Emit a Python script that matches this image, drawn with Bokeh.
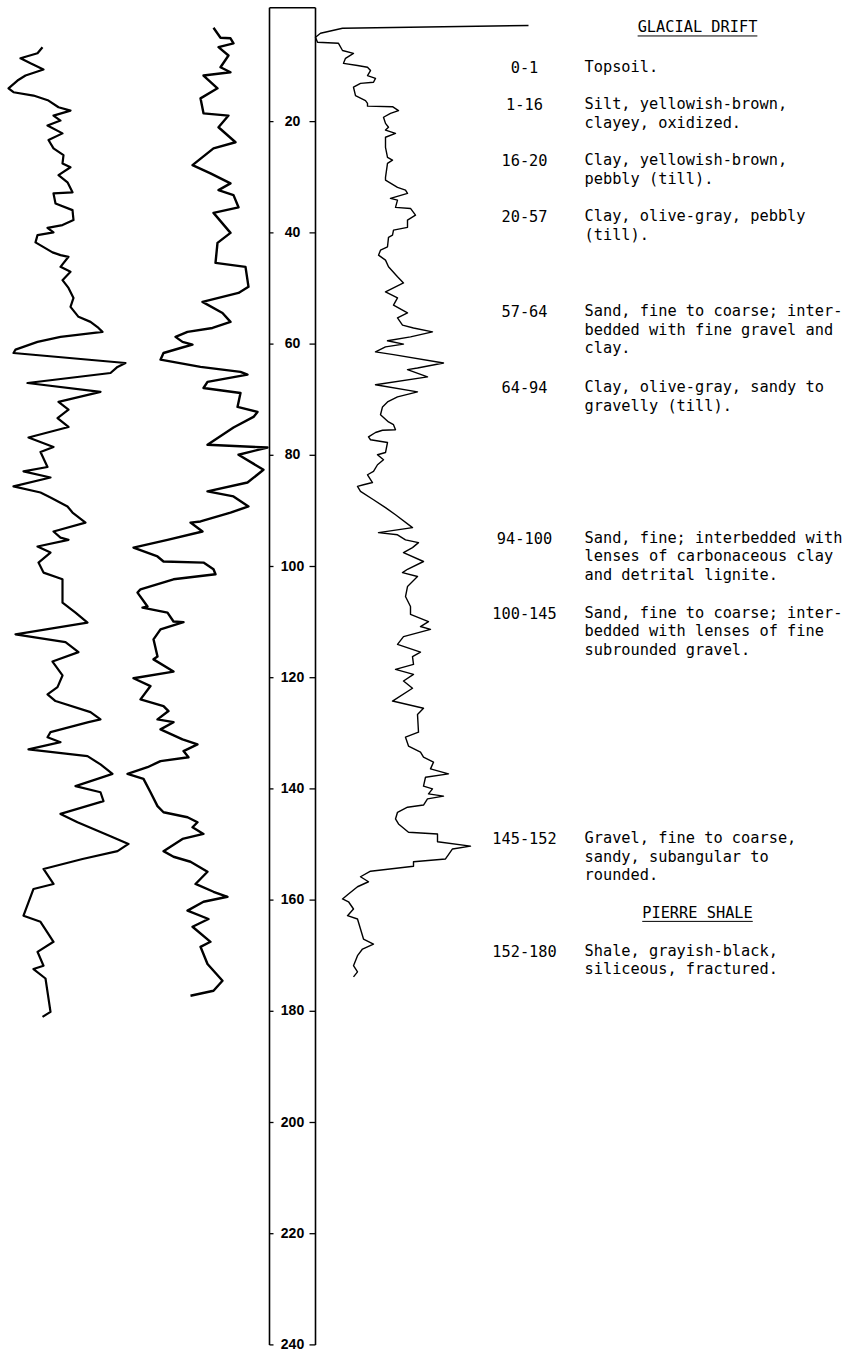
from bokeh.plotting import figure
from bokeh.models import Range1d
from bokeh.core.properties import value
from bokeh.embed import file_html
from bokeh.resources import INLINE

# ---------------- data (depth in feet, log deflection in chart units) ----------------
CURVE_A_DEPTH = [6.6, 7.7, 8.6, 9.5, 10.6, 11.7, 12.6, 14.0, 14.7, 15.3,
                 16.2, 17.4, 18.0, 18.9, 19.8, 20.7, 22.1, 23.3, 24.8, 26.0,
                 27.5, 28.2, 29.6, 30.9, 32.7, 32.9, 34.7, 35.9, 37.7, 38.6,
                 39.1, 39.9, 40.4, 41.7, 43.5, 44.0, 44.3, 46.1, 47.0, 48.5,
                 49.9, 51.7, 53.3, 55.1, 56.0, 57.1, 57.8, 58.7, 59.6, 61.0,
                 61.6, 63.4, 64.1, 65.2, 67.0, 68.6, 70.4, 71.8, 73.3, 74.9,
                 76.8, 78.5, 79.4, 82.1, 82.9, 84.0, 85.6, 86.7, 87.6, 89.2,
                 90.3, 92.1, 93.7, 94.8, 95.2, 96.4, 97.5, 99.3, 101.1, 102.3,
                 106.5, 108.3, 110.1, 112.2, 113.6, 115.4, 117.1, 119.6, 121.7, 123.0,
                 124.2, 126.2, 127.5, 128.0, 129.8, 130.7, 131.6, 132.9, 134.1, 135.6,
                 137.3, 138.2, 139.5, 140.6, 142.2, 144.5, 146.0, 148.5, 149.9, 151.2,
                 152.6, 154.4, 157.1, 158.0, 162.8, 163.9, 167.5, 169.3, 171.8, 172.4,
                 174.1, 180.1, 181.0]
CURVE_A_VALUE = [42, 37, 20, 30, 43, 25, 17, 8, 13, 33,
                 48, 58, 70, 53, 60, 47, 62, 48, 53, 63,
                 62, 70, 58, 67, 72, 53, 55, 72, 73, 62,
                 47, 53, 37, 35, 52, 60, 68, 60, 70, 62,
                 68, 73, 70, 78, 90, 98, 102, 60, 37, 15,
                 13, 125, 117, 110, 27, 100, 58, 68, 57, 68,
                 28, 53, 40, 47, 23, 50, 13, 40, 50, 67,
                 72, 85, 53, 60, 68, 37, 50, 38, 43, 62,
                 62, 75, 87, 15, 65, 78, 52, 62, 57, 47,
                 55, 90, 100, 88, 50, 47, 60, 28, 87, 100,
                 112, 97, 75, 100, 103, 60, 77, 110, 128, 117,
                 82, 43, 53, 33, 23, 40, 53, 37, 43, 33,
                 45, 50, 42]

CURVE_B_DEPTH = [3.1, 4.9, 5.0, 5.9, 6.6, 8.1, 10.2, 11.1, 11.7, 14.0,
                 15.8, 18.5, 18.9, 21.0, 23.7, 24.8, 27.8, 29.3, 31.1, 32.3,
                 33.2, 35.4, 36.4, 40.0, 41.8, 45.4, 46.1, 49.7, 50.8, 52.4,
                 54.4, 56.0, 57.1, 57.8, 58.7, 59.6, 60.1, 60.7, 61.6, 62.8,
                 64.1, 65.0, 65.5, 66.8, 67.9, 68.8, 71.3, 72.2, 73.1, 75.0,
                 78.1, 78.6, 79.9, 82.6, 84.9, 86.5, 87.4, 89.2, 90.3, 91.9,
                 92.1, 93.7, 95.2, 96.6, 98.2, 99.1, 99.3, 100.5, 101.4, 102.3,
                 104.1, 104.7, 107.2, 107.4, 108.3, 109.9, 110.0, 111.3, 113.1, 116.2,
                 116.7, 118.9, 120.1, 121.5, 123.9, 125.1, 126.0, 127.5, 128.0, 129.3,
                 131.1, 132.0, 133.2, 134.3, 135.0, 136.1, 137.3, 138.2, 140.6, 143.1,
                 144.2, 145.1, 146.0, 146.9, 148.1, 149.0, 151.2, 152.2, 153.1, 154.9,
                 157.1, 158.5, 159.4, 160.3, 161.9, 163.4, 164.8, 167.5, 168.4, 171.5,
                 174.5, 176.3, 177.2]
CURVE_B_VALUE = [213, 220, 230, 233, 218, 228, 220, 230, 203, 217,
                 200, 203, 228, 218, 235, 213, 192, 210, 230, 218,
                 233, 238, 213, 230, 217, 215, 245, 248, 238, 202,
                 222, 230, 212, 187, 175, 182, 192, 180, 163, 160,
                 200, 240, 247, 207, 203, 240, 237, 257, 253, 233,
                 207, 267, 238, 263, 247, 207, 233, 248, 230, 200,
                 190, 202, 167, 133, 157, 163, 203, 213, 215, 173,
                 140, 137, 147, 142, 167, 173, 183, 160, 153, 157,
                 153, 173, 133, 150, 140, 163, 168, 157, 173, 160,
                 182, 197, 183, 188, 160, 147, 127, 143, 150, 157,
                 163, 187, 197, 192, 203, 182, 163, 173, 190, 207,
                 195, 213, 227, 203, 187, 208, 192, 210, 200, 207,
                 222, 213, 190]

CURVE_C_DEPTH = [2.7, 3.2, 4.1, 4.8, 5.7, 5.9, 7.2, 7.7, 8.6, 9.5,
                 9.9, 10.2, 10.8, 11.7, 12.2, 12.9, 13.1, 13.8, 15.3, 16.2,
                 16.7, 17.2, 17.3, 18.0, 18.5, 19.2, 20.3, 21.0, 21.5, 22.1,
                 22.8, 24.6, 26.4, 26.9, 27.5, 30.0, 30.5, 31.8, 32.3, 32.9,
                 33.8, 34.1, 35.4, 35.6, 36.8, 37.7, 39.0, 39.5, 40.4, 40.8,
                 42.5, 43.1, 44.0, 44.9, 46.1, 47.9, 49.0, 50.6, 51.5, 51.7,
                 53.0, 54.4, 55.3, 56.6, 57.1, 57.8, 58.7, 59.4, 60.0, 60.5,
                 61.4, 61.9, 63.4, 64.3, 64.6, 65.9, 67.3, 68.6, 69.5, 70.4,
                 71.3, 72.7, 74.0, 74.5, 75.4, 75.5, 75.9, 76.7, 77.2, 77.7,
                 79.5, 79.9, 80.8, 81.7, 82.9, 83.5, 84.9, 85.3, 85.6, 86.5,
                 88.0, 89.4, 90.7, 93.0, 93.9, 94.3, 95.2, 95.7, 96.6, 97.5,
                 99.1, 100.5, 101.1, 101.8, 103.6, 105.4, 107.2, 108.6, 109.9, 110.8,
                 111.3, 112.6, 114.0, 115.4, 116.2, 117.6, 118.5, 119.4, 120.6, 121.9,
                 124.2, 125.5, 126.6, 129.8, 130.7, 132.3, 133.4, 134.3, 135.2, 136.4,
                 137.3, 137.9, 139.5, 140.0, 140.9, 141.3, 141.8, 142.9, 143.3, 144.2,
                 145.4, 146.3, 147.8, 148.1, 149.5, 150.3, 150.8, 152.6, 153.1, 153.9,
                 154.8, 155.8, 156.7, 157.6, 158.9, 159.8, 160.3, 161.6, 162.8, 163.4,
                 165.2, 167.0, 167.9, 168.8, 170.0, 171.8, 172.9, 173.8]
CURVE_C_VALUE = [528, 342, 320, 315, 317, 338, 342, 353, 345, 343,
                 357, 367, 370, 367, 375, 373, 360, 353, 355, 365,
                 367, 367, 392, 398, 390, 383, 385, 388, 385, 395,
                 385, 385, 387, 392, 387, 385, 385, 397, 405, 407,
                 390, 397, 395, 410, 415, 407, 407, 393, 392, 388,
                 387, 380, 378, 385, 388, 397, 403, 385, 395, 397,
                 393, 407, 397, 402, 413, 432, 410, 387, 403, 385,
                 375, 393, 443, 417, 407, 427, 375, 417, 397, 387,
                 382, 380, 388, 393, 395, 382, 375, 368, 370, 387,
                 385, 377, 383, 377, 373, 367, 372, 363, 357, 360,
                 373, 385, 395, 412, 378, 397, 405, 418, 412, 403,
                 423, 407, 402, 417, 407, 405, 410, 410, 428, 420,
                 430, 403, 397, 420, 412, 413, 395, 413, 403, 412,
                 392, 423, 417, 418, 405, 408, 420, 423, 433, 430,
                 448, 425, 423, 432, 428, 443, 427, 423, 407, 397,
                 395, 398, 408, 437, 437, 470, 452, 445, 413, 413,
                 370, 360, 368, 357, 348, 342, 348, 353, 347, 357,
                 360, 363, 373, 362, 357, 353, 357, 353]

DEPTH_TICKS = [20, 40, 60, 80, 100, 120, 140, 160, 180, 200, 220, 240]
DEPTH_TOTAL = 240

HEADERS = ["GLACIAL DRIFT", "PIERRE SHALE"]
INTERVALS = ["0-1", "1-16", "16-20", "20-57", "57-64", "64-94",
             "94-100", "100-145", "145-152", "152-180"]
DESCRIPTIONS = [
    "Topsoil.",
    "Silt, yellowish-brown,\nclayey, oxidized.",
    "Clay, yellowish-brown,\npebbly (till).",
    "Clay, olive-gray, pebbly\n(till).",
    "Sand, fine to coarse; inter-\nbedded with fine gravel and\nclay.",
    "Clay, olive-gray, sandy to\ngravelly (till).",
    "Sand, fine; interbedded with\nlenses of carbonaceous clay\nand detrital lignite.",
    "Sand, fine to coarse; inter-\nbedded with lenses of fine\nsubrounded gravel.",
    "Gravel, fine to coarse,\nsandy, subangular to\nrounded.",
    "Shale, grayish-black,\nsiliceous, fractured.",
]

# ---------------- layout (page geometry) ----------------
W, H = 850, 1351
PX_PER_FT = 5.56
TOP_OFFSET_PX = 10.0            # depth 0 sits 10 px below the plot top
COL_TOP = -0.5
HEADER_ROW_Y = [3.05, 162.3]    # text rows, in depth units
ROW_Y = [10.2, 16.9, 26.9, 37.0, 54.0, 67.7, 94.8, 108.3, 148.8, 169.1]
LINE_STEP = 18.8 / PX_PER_FT
COL_LEFT, COL_RIGHT = 269, 315
INTERVAL_X, DESC_X, HEADER_X = 524, 584, 697
CHAR_W = 9.21
MONO = "DejaVu Sans Mono"

y_end = -TOP_OFFSET_PX / PX_PER_FT
y_start = y_end + H / PX_PER_FT

p = figure(width=W, height=H, output_backend="svg", toolbar_location=None,
           x_range=Range1d(0, W), y_range=Range1d(y_start, y_end),
           x_axis_location=None, y_axis_location=None,
           min_border=0, min_border_left=0, min_border_right=0,
           min_border_top=0, min_border_bottom=0)
p.grid.visible = False
p.outline_line_color = None
p.background_fill_color = "white"
p.border_fill_color = "white"

# depth column
p.segment(x0=[COL_LEFT, COL_RIGHT, COL_LEFT], y0=[COL_TOP, COL_TOP, COL_TOP],
          x1=[COL_LEFT, COL_RIGHT, COL_RIGHT], y1=[DEPTH_TOTAL, DEPTH_TOTAL, COL_TOP],
          line_color="black", line_width=1.6)
p.segment(x0=[COL_LEFT] * len(DEPTH_TICKS), y0=DEPTH_TICKS,
          x1=[COL_LEFT + 4] * len(DEPTH_TICKS), y1=DEPTH_TICKS,
          line_color="black", line_width=1.3)
p.segment(x0=[COL_RIGHT - 6] * len(DEPTH_TICKS), y0=DEPTH_TICKS,
          x1=[COL_RIGHT] * len(DEPTH_TICKS), y1=DEPTH_TICKS,
          line_color="black", line_width=1.3)
p.text(x=[(COL_LEFT + COL_RIGHT) / 2] * len(DEPTH_TICKS), y=DEPTH_TICKS,
       text=[str(t) for t in DEPTH_TICKS], y_offset=-1,
       text_font=value("Liberation Sans"), text_font_style="bold",
       text_font_size="14px", text_align="center", text_baseline="middle",
       text_color="black")

# log curves
p.line(CURVE_A_VALUE, CURVE_A_DEPTH, line_color="black", line_width=2.2, line_join="round")
p.line(CURVE_B_VALUE, CURVE_B_DEPTH, line_color="black", line_width=2.4, line_join="round")
p.line(CURVE_C_VALUE, CURVE_C_DEPTH, line_color="black", line_width=1.4, line_join="round")

# headers with underline
p.text(x=[HEADER_X] * len(HEADERS), y=HEADER_ROW_Y, text=HEADERS,
       text_font=value(MONO), text_font_size="15.3px",
       text_align="center", text_baseline="middle", text_color="black")
ul_half = [len(h) * CHAR_W / 2 for h in HEADERS]
p.segment(x0=[HEADER_X - w for w in ul_half], x1=[HEADER_X + w for w in ul_half],
          y0=[y + 8.5 / PX_PER_FT for y in HEADER_ROW_Y],
          y1=[y + 8.5 / PX_PER_FT for y in HEADER_ROW_Y],
          line_color="black", line_width=1)

# interval labels
p.text(x=[INTERVAL_X] * len(INTERVALS), y=ROW_Y, text=INTERVALS,
       text_font=value(MONO), text_font_size="15.3px",
       text_align="center", text_baseline="middle", text_color="black")

# descriptions, one glyph per line
dx, dy, dt = [], [], []
for ry, desc in zip(ROW_Y, DESCRIPTIONS):
    for i, line in enumerate(desc.split("\n")):
        dx.append(DESC_X)
        dy.append(ry + i * LINE_STEP)
        dt.append(line)
p.text(x=dx, y=dy, text=dt, text_font=value(MONO), text_font_size="15.3px",
       text_align="left", text_baseline="middle", text_color="black")

open("out.html", "w").write(file_html(p, INLINE))
